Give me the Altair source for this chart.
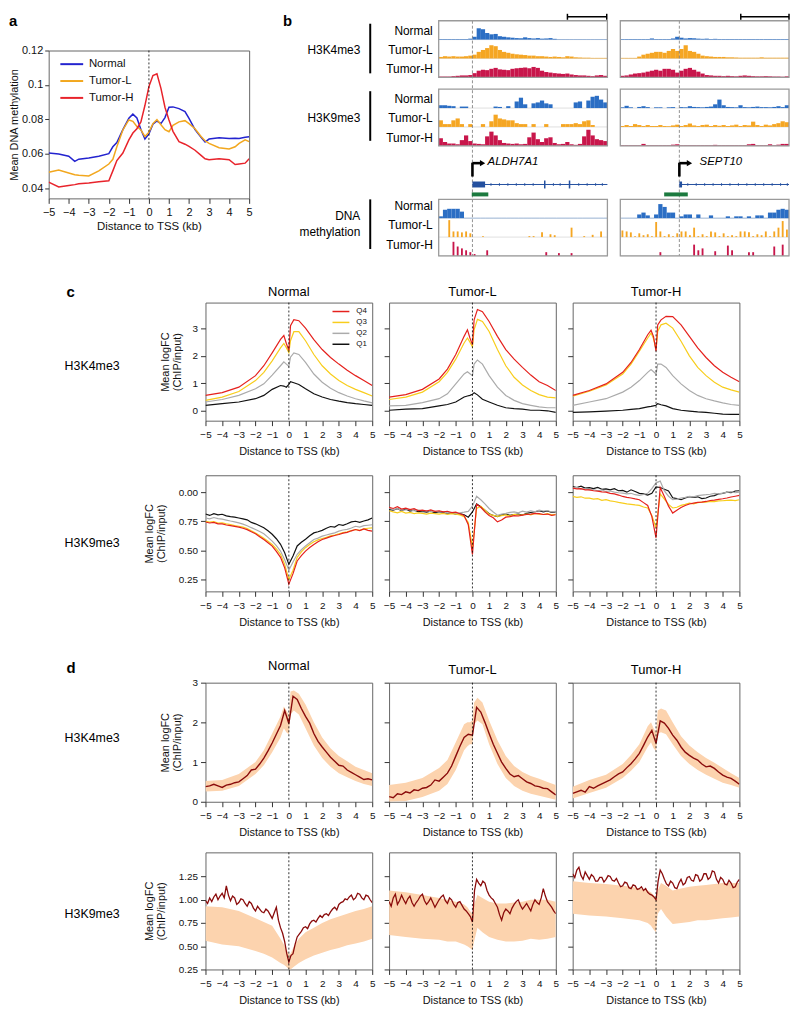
import altair as alt
import pandas as pd

FONT = "Liberation Sans"
SAMPLES = ["Normal", "Tumor-L", "Tumor-H"]
QUARTS = ["Q4", "Q3", "Q2", "Q1"]
XTICKS = [-5, -4, -3, -2, -1, 0, 1, 2, 3, 4, 5]

A_COLORS = ["#2323cf", "#f2a71e", "#e8232b"]
Q_COLORS = ["#e5211d", "#f8cd1c", "#ababab", "#111111"]
B_COLORS = ["#2b6ec4", "#f5a623", "#c8164b"]
D_LINE = "#8a0b0b"
D_BAND = "#fcd3ae"
GENE_BLUE = "#24509f"
GREEN = "#1c7a3f"
NOVIEW = alt.ViewBackground(stroke="transparent")

# ---------------- panel a : mean DNA methylation ----------------
A_X = [-5, -4.5, -4, -3.7, -3.5, -3, -2.5, -2, -1.8, -1.6, -1.3, -1, -0.8, -0.6, -0.4, -0.2, 0, 0.2,
       0.4, 0.6, 0.8, 1.0, 1.2, 1.5, 1.8, 2.0, 2.3, 2.6, 2.8, 3.0, 3.5, 4.0, 4.3, 4.5, 4.8, 5.0]
A_NORMAL = [0.0604, 0.0598, 0.0585, 0.0555, 0.0568, 0.0575, 0.0585, 0.0600, 0.0640, 0.0665, 0.0740, 0.0806,
            0.0830, 0.0808, 0.0740, 0.0685, 0.0715, 0.0772, 0.0790, 0.0775, 0.0810, 0.0870, 0.0872, 0.0862,
            0.0845, 0.0805, 0.0740, 0.0695, 0.0668, 0.0685, 0.0692, 0.0688, 0.0690, 0.0688, 0.0695, 0.0698]
A_TUMOR_L = [0.0492, 0.0505, 0.0488, 0.0478, 0.0475, 0.0470, 0.0500, 0.0540, 0.0567, 0.0640, 0.0738, 0.0796,
             0.0788, 0.0758, 0.0738, 0.0700, 0.0725, 0.0775, 0.0798, 0.0768, 0.0740, 0.0728, 0.0765, 0.0785,
             0.0792, 0.0775, 0.0745, 0.0700, 0.0675, 0.0660, 0.0635, 0.0627, 0.0640, 0.0660, 0.0680, 0.0670]
A_TUMOR_H = [0.0435, 0.0406, 0.0415, 0.0420, 0.0425, 0.0430, 0.0437, 0.0442, 0.0500, 0.0560, 0.0604, 0.0680,
             0.0720, 0.0745, 0.0785, 0.0880, 0.0990, 0.1055, 0.1065, 0.0980, 0.0870, 0.0796, 0.0730, 0.0670,
             0.0655, 0.0642, 0.0620, 0.0590, 0.0570, 0.0565, 0.0570, 0.0565, 0.0537, 0.0540, 0.0545, 0.0570]
A_YTICKS = [0.04, 0.06, 0.08, 0.1, 0.12]

# ---------------- panels c / d : x grids ----------------
XG1 = [-5, -4, -3, -2, -1.5, -1, -0.5, -0.3, -0.15, 0, 0.1, 0.3, 0.6, 1, 1.5, 2, 2.5, 3, 3.5, 4, 4.5, 5]
XG2 = [-5, -4.75, -4.5, -4.25, -4, -3.75, -3.5, -3.25, -3, -2.75, -2.5, -2.25, -2, -1.75, -1.5, -1.25,
       -1, -0.75, -0.5, -0.25, 0, 0.25, 0.5, 0.75, 1, 1.25, 1.5, 1.75, 2, 2.25, 2.5, 2.75, 3, 3.25, 3.5,
       3.75, 4, 4.25, 4.5, 4.75, 5]
XG3 = [-5, -4.875, -4.75, -4.625, -4.5, -4.375, -4.25, -4.125, -4, -3.875, -3.75, -3.625, -3.5, -3.375,
       -3.25, -3.125, -3, -2.875, -2.75, -2.625, -2.5, -2.375, -2.25, -2.125, -2, -1.875, -1.75, -1.625,
       -1.5, -1.375, -1.25, -1.125, -1, -0.875, -0.75, -0.625, -0.5, -0.375, -0.25, -0.125, 0, 0.125,
       0.25, 0.375, 0.5, 0.625, 0.75, 0.875, 1, 1.125, 1.25, 1.375, 1.5, 1.625, 1.75, 1.875, 2, 2.125,
       2.25, 2.375, 2.5, 2.625, 2.75, 2.875, 3, 3.125, 3.25, 3.375, 3.5, 3.625, 3.75, 3.875, 4, 4.125,
       4.25, 4.375, 4.5, 4.625, 4.75, 4.875, 5]

# c, H3K4me3 (grid XG1)
K4_N_Q4 = [0.56, 0.66, 0.86, 1.28, 1.64, 2.11, 2.60, 2.74, 2.45, 2.20, 3.10, 3.32, 3.28, 3.01, 2.59, 2.23, 1.94, 1.70, 1.48, 1.28, 1.10, 0.92]
K4_N_Q3 = [0.38, 0.50, 0.70, 1.10, 1.40, 1.82, 2.29, 2.45, 2.30, 2.12, 2.55, 2.88, 2.88, 2.55, 2.05, 1.64, 1.34, 1.10, 0.92, 0.78, 0.66, 0.54]
K4_N_Q2 = [0.32, 0.41, 0.56, 0.80, 0.98, 1.30, 1.64, 1.78, 1.70, 1.62, 1.95, 2.11, 2.05, 1.76, 1.34, 1.04, 0.82, 0.66, 0.54, 0.44, 0.36, 0.29]
K4_N_Q1 = [0.20, 0.26, 0.32, 0.44, 0.56, 0.78, 0.92, 0.90, 0.86, 0.96, 1.06, 1.02, 0.96, 0.80, 0.62, 0.50, 0.41, 0.35, 0.30, 0.26, 0.23, 0.20]
K4_L_Q4 = [0.50, 0.59, 0.78, 1.16, 1.52, 2.05, 2.71, 2.95, 2.65, 2.41, 3.31, 3.69, 3.61, 3.25, 2.71, 2.23, 1.88, 1.58, 1.30, 1.06, 0.92, 0.74]
K4_L_Q3 = [0.41, 0.50, 0.68, 1.06, 1.40, 1.88, 2.47, 2.65, 2.50, 2.33, 2.95, 3.33, 3.25, 2.89, 2.23, 1.64, 1.22, 0.94, 0.74, 0.59, 0.50, 0.47]
K4_L_Q2 = [0.18, 0.20, 0.30, 0.44, 0.62, 0.98, 1.34, 1.42, 1.35, 1.28, 1.70, 1.85, 1.70, 1.28, 0.86, 0.56, 0.38, 0.26, 0.20, 0.14, 0.11, 0.11]
K4_L_Q1 = [0.02, 0.06, 0.08, 0.18, 0.23, 0.32, 0.50, 0.54, 0.56, 0.60, 0.66, 0.58, 0.42, 0.32, 0.20, 0.11, 0.08, 0.06, 0.02, 0.02, 0.00, -0.06]
K4_H_Q4 = [0.56, 0.74, 0.98, 1.40, 1.76, 2.23, 2.77, 2.93, 2.70, 2.17, 3.13, 3.31, 3.44, 3.43, 3.13, 2.71, 2.29, 1.94, 1.64, 1.40, 1.22, 1.06]
K4_H_Q3 = [0.53, 0.71, 0.94, 1.34, 1.70, 2.17, 2.65, 2.83, 2.62, 2.23, 2.89, 3.13, 3.19, 3.01, 2.53, 2.00, 1.58, 1.28, 1.04, 0.86, 0.76, 0.68]
K4_H_Q2 = [0.20, 0.32, 0.44, 0.68, 0.86, 1.10, 1.40, 1.50, 1.42, 1.34, 1.70, 1.70, 1.58, 1.28, 0.98, 0.74, 0.56, 0.44, 0.36, 0.29, 0.23, 0.20]
K4_H_Q1 = [-0.06, -0.04, -0.01, 0.02, 0.05, 0.08, 0.14, 0.16, 0.18, 0.20, 0.26, 0.22, 0.18, 0.08, 0.02, -0.01, -0.04, -0.06, -0.09, -0.12, -0.13, -0.13]

# c, H3K9me3 (grid XG2)
K9_N_Q1 = [0.812, 0.800, 0.815, 0.805, 0.810, 0.796, 0.790, 0.785, 0.778, 0.770, 0.762, 0.740, 0.728, 0.712, 0.695, 0.668, 0.638, 0.600, 0.552, 0.480, 0.380,
           0.452, 0.538, 0.570, 0.596, 0.625, 0.650, 0.660, 0.672, 0.690, 0.705, 0.700, 0.722, 0.715, 0.728, 0.745, 0.750, 0.740, 0.752, 0.762, 0.778]
K9_N_Q2 = [0.778, 0.770, 0.782, 0.772, 0.768, 0.760, 0.752, 0.745, 0.736, 0.725, 0.712, 0.695, 0.679, 0.662, 0.642, 0.612, 0.580, 0.540, 0.494, 0.420, 0.330,
           0.400, 0.466, 0.505, 0.537, 0.566, 0.594, 0.605, 0.622, 0.632, 0.642, 0.650, 0.665, 0.675, 0.680, 0.692, 0.707, 0.700, 0.712, 0.716, 0.720]
K9_N_Q3 = [0.750, 0.742, 0.748, 0.735, 0.736, 0.728, 0.722, 0.712, 0.707, 0.700, 0.688, 0.668, 0.650, 0.628, 0.604, 0.578, 0.551, 0.512, 0.466, 0.380, 0.250,
           0.330, 0.440, 0.488, 0.523, 0.550, 0.574, 0.590, 0.602, 0.612, 0.625, 0.632, 0.642, 0.652, 0.660, 0.670, 0.679, 0.672, 0.685, 0.690, 0.693]
K9_N_Q4 = [0.744, 0.735, 0.740, 0.728, 0.727, 0.718, 0.712, 0.706, 0.700, 0.690, 0.678, 0.660, 0.642, 0.618, 0.594, 0.566, 0.537, 0.492, 0.440, 0.350, 0.210,
           0.300, 0.409, 0.455, 0.494, 0.525, 0.551, 0.575, 0.594, 0.605, 0.618, 0.628, 0.636, 0.648, 0.655, 0.668, 0.679, 0.670, 0.684, 0.672, 0.665]
K9_L_Q1 = [0.850, 0.845, 0.858, 0.842, 0.855, 0.838, 0.846, 0.832, 0.835, 0.828, 0.836, 0.822, 0.830, 0.826, 0.818, 0.822, 0.812, 0.815, 0.805, 0.785, 0.830,
           0.900, 0.875, 0.845, 0.815, 0.800, 0.790, 0.805, 0.812, 0.800, 0.808, 0.812, 0.804, 0.818, 0.825, 0.832, 0.840, 0.830, 0.838, 0.826, 0.830]
K9_L_Q2 = [0.862, 0.850, 0.858, 0.845, 0.848, 0.852, 0.840, 0.845, 0.838, 0.842, 0.832, 0.836, 0.828, 0.832, 0.820, 0.826, 0.815, 0.822, 0.828, 0.835, 0.880,
           0.965, 0.935, 0.900, 0.860, 0.830, 0.802, 0.812, 0.818, 0.826, 0.830, 0.822, 0.836, 0.828, 0.840, 0.832, 0.846, 0.838, 0.842, 0.830, 0.835]
K9_L_Q3 = [0.840, 0.830, 0.822, 0.835, 0.820, 0.826, 0.815, 0.822, 0.818, 0.812, 0.820, 0.815, 0.812, 0.818, 0.808, 0.815, 0.810, 0.805, 0.790, 0.740, 0.523,
           0.860, 0.880, 0.845, 0.810, 0.800, 0.792, 0.798, 0.805, 0.795, 0.810, 0.802, 0.806, 0.812, 0.805, 0.818, 0.812, 0.808, 0.815, 0.805, 0.810]
K9_L_Q4 = [0.870, 0.860, 0.875, 0.855, 0.862, 0.850, 0.858, 0.842, 0.845, 0.838, 0.848, 0.835, 0.840, 0.830, 0.836, 0.825, 0.828, 0.815, 0.800, 0.720, 0.466,
           0.895, 0.870, 0.830, 0.800, 0.780, 0.745, 0.760, 0.785, 0.790, 0.798, 0.795, 0.802, 0.808, 0.812, 0.818, 0.815, 0.808, 0.812, 0.800, 0.806]
K9_H_Q1 = [1.048, 1.040, 1.052, 1.035, 1.038, 1.030, 1.040, 1.025, 1.028, 1.020, 1.030, 1.012, 1.015, 1.000, 1.020, 1.005, 0.990, 0.985, 0.975, 0.990, 1.045,
           1.040, 1.025, 1.010, 0.952, 0.945, 0.935, 0.950, 0.962, 0.955, 0.960, 0.945, 0.950, 0.965, 0.970, 0.985, 0.990, 1.000, 0.995, 1.010, 1.012]
K9_H_Q2 = [1.034, 1.040, 1.025, 1.030, 1.020, 1.022, 1.012, 1.018, 1.006, 1.010, 1.000, 0.995, 0.991, 0.985, 0.990, 0.978, 0.972, 0.980, 0.990, 1.030, 1.080,
           1.095, 1.010, 0.965, 0.935, 0.940, 0.950, 0.955, 0.963, 0.960, 0.970, 0.975, 0.978, 0.982, 0.990, 0.985, 0.992, 0.998, 1.005, 0.995, 1.000]
K9_H_Q3 = [0.963, 0.955, 0.960, 0.948, 0.949, 0.940, 0.944, 0.930, 0.935, 0.925, 0.920, 0.912, 0.906, 0.900, 0.895, 0.890, 0.886, 0.872, 0.864, 0.800, 0.693,
           0.985, 0.940, 0.895, 0.864, 0.870, 0.886, 0.895, 0.906, 0.900, 0.910, 0.915, 0.915, 0.920, 0.918, 0.925, 0.926, 0.930, 0.932, 0.928, 0.935]
K9_H_Q4 = [1.034, 1.028, 1.030, 1.020, 1.020, 1.012, 1.008, 1.002, 1.000, 0.990, 0.985, 0.975, 0.963, 0.955, 0.950, 0.942, 0.935, 0.910, 0.886, 0.790, 0.608,
           1.040, 0.963, 0.880, 0.820, 0.845, 0.869, 0.885, 0.898, 0.905, 0.912, 0.915, 0.920, 0.928, 0.932, 0.938, 0.943, 0.950, 0.958, 0.965, 0.972]

# d, H3K4me3 : mean line (XG2) and band (XG1)
D4_N = [0.38, 0.40, 0.44, 0.40, 0.36, 0.42, 0.44, 0.48, 0.50, 0.58, 0.66, 0.80, 0.82, 0.95, 1.10, 1.28, 1.48, 1.70, 1.92, 2.30, 1.97,
        2.66, 2.58, 2.35, 2.15, 1.98, 1.72, 1.52, 1.38, 1.25, 1.12, 1.02, 0.92, 0.90, 0.80, 0.74, 0.68, 0.62, 0.56, 0.58, 0.55]
D4_N_LO = [0.26, 0.28, 0.40, 0.70, 0.92, 1.25, 1.62, 1.85, 1.75, 1.70, 2.20, 2.30, 2.20, 1.85, 1.42, 1.10, 0.88, 0.72, 0.62, 0.52, 0.45, 0.40]
D4_N_HI = [0.52, 0.55, 0.70, 1.00, 1.30, 1.72, 2.15, 2.40, 2.30, 2.20, 2.78, 2.80, 2.72, 2.45, 2.00, 1.62, 1.35, 1.15, 1.02, 0.88, 0.80, 0.72]
D4_L = [0.13, 0.10, 0.20, 0.18, 0.25, 0.22, 0.30, 0.28, 0.34, 0.36, 0.42, 0.55, 0.52, 0.62, 0.72, 0.90, 1.15, 1.40, 1.62, 1.70, 1.68,
        2.38, 2.26, 2.00, 1.72, 1.45, 1.22, 1.00, 0.84, 0.70, 0.63, 0.66, 0.58, 0.50, 0.46, 0.40, 0.38, 0.34, 0.33, 0.25, 0.17]
D4_L_LO = [0.00, 0.02, 0.12, 0.28, 0.45, 0.80, 1.30, 1.40, 1.45, 1.45, 1.95, 2.05, 1.95, 1.45, 0.95, 0.60, 0.40, 0.28, 0.20, 0.15, 0.10, 0.05]
D4_L_HI = [0.42, 0.48, 0.60, 0.85, 1.05, 1.50, 1.95, 2.00, 2.00, 2.05, 2.50, 2.62, 2.50, 2.05, 1.55, 1.15, 0.90, 0.75, 0.65, 0.58, 0.50, 0.42]
D4_H = [0.21, 0.25, 0.29, 0.24, 0.38, 0.34, 0.40, 0.45, 0.50, 0.55, 0.63, 0.70, 0.75, 0.86, 0.96, 1.08, 1.22, 1.42, 1.63, 1.80, 1.47,
        2.04, 1.98, 1.85, 1.68, 1.55, 1.38, 1.25, 1.17, 1.10, 1.05, 0.95, 0.88, 0.90, 0.84, 0.75, 0.67, 0.62, 0.59, 0.52, 0.44]
D4_H_LO = [0.08, 0.22, 0.35, 0.60, 0.78, 1.00, 1.38, 1.50, 1.35, 1.28, 1.72, 1.75, 1.70, 1.45, 1.15, 0.95, 0.80, 0.68, 0.58, 0.48, 0.42, 0.35]
D4_H_HI = [0.38, 0.55, 0.68, 0.95, 1.18, 1.45, 1.90, 2.00, 1.85, 1.75, 2.30, 2.35, 2.30, 2.00, 1.65, 1.42, 1.25, 1.10, 0.98, 0.85, 0.72, 0.60]

# d, H3K9me3 : mean line (XG3) and band (XG1)
D9_N = [0.99, 0.96, 1.02, 0.98, 1.03, 1.06, 1.00, 1.04, 1.07, 1.02, 1.15, 1.05, 0.99, 1.04, 1.02, 0.95, 0.97, 1.01, 1.00, 0.96,
        0.93, 0.98, 0.96, 0.91, 0.88, 0.93, 0.90, 0.87, 0.86, 0.90, 0.88, 0.84, 0.80, 0.86, 0.92, 0.78, 0.70, 0.64, 0.55, 0.42,
        0.33, 0.40, 0.42, 0.52, 0.60, 0.63, 0.66, 0.70, 0.71, 0.69, 0.74, 0.77, 0.78, 0.76, 0.80, 0.83, 0.81, 0.84, 0.85, 0.83,
        0.87, 0.90, 0.92, 0.89, 0.95, 0.97, 0.98, 1.01, 1.00, 1.03, 1.05, 1.00, 1.02, 1.07, 1.06, 1.02, 1.00, 1.05, 1.04, 1.00, 0.97]
D9_N_LO = [0.56, 0.52, 0.50, 0.45, 0.42, 0.38, 0.32, 0.30, 0.28, 0.25, 0.25, 0.28, 0.32, 0.36, 0.40, 0.43, 0.46, 0.48, 0.51, 0.53, 0.55, 0.58]
D9_N_HI = [0.93, 0.92, 0.88, 0.80, 0.76, 0.72, 0.58, 0.52, 0.46, 0.42, 0.42, 0.50, 0.58, 0.65, 0.70, 0.75, 0.79, 0.82, 0.85, 0.88, 0.90, 0.93]
D9_L = [0.98, 0.93, 1.02, 1.06, 0.95, 0.99, 1.05, 1.00, 0.96, 1.01, 1.04, 0.97, 0.93, 0.97, 1.00, 1.04, 1.06, 0.99, 0.95, 0.98,
        1.02, 0.97, 0.92, 0.96, 1.00, 1.03, 1.05, 0.99, 0.96, 1.02, 1.00, 0.95, 0.92, 0.97, 0.98, 0.94, 0.90, 0.88, 0.85, 0.82,
        0.76, 1.10, 1.22, 1.18, 1.15, 1.20, 1.18, 1.10, 1.05, 1.02, 1.00, 0.96, 0.92, 0.84, 0.78, 0.86, 0.90, 0.88, 0.85, 0.91,
        0.95, 0.98, 1.00, 0.94, 0.90, 0.93, 0.96, 0.92, 0.88, 0.95, 1.00, 0.97, 0.95, 1.02, 1.12, 1.04, 0.98, 0.95, 0.92, 0.88, 0.85]
D9_L_LO = [0.62, 0.60, 0.58, 0.57, 0.55, 0.55, 0.52, 0.50, 0.48, 0.46, 0.55, 0.70, 0.65, 0.60, 0.57, 0.55, 0.55, 0.56, 0.58, 0.57, 0.58, 0.60]
D9_L_HI = [1.10, 1.08, 1.05, 1.02, 1.00, 0.98, 0.95, 0.92, 0.88, 0.85, 0.95, 1.05, 1.02, 0.98, 0.96, 0.96, 0.97, 0.98, 1.00, 1.00, 1.00, 0.98]
D9_H = [1.28, 1.24, 1.32, 1.35, 1.26, 1.22, 1.30, 1.26, 1.22, 1.27, 1.25, 1.20, 1.20, 1.24, 1.24, 1.19, 1.22, 1.26, 1.25, 1.21,
        1.20, 1.23, 1.18, 1.14, 1.15, 1.19, 1.18, 1.13, 1.12, 1.16, 1.15, 1.11, 1.12, 1.14, 1.10, 1.12, 1.08, 1.06, 1.05, 1.03,
        1.00, 1.20, 1.32, 1.28, 1.22, 1.17, 1.15, 1.20, 1.18, 1.13, 1.12, 1.18, 1.22, 1.16, 1.18, 1.24, 1.25, 1.21, 1.20, 1.27,
        1.26, 1.20, 1.22, 1.28, 1.28, 1.22, 1.24, 1.31, 1.30, 1.22, 1.18, 1.24, 1.22, 1.17, 1.16, 1.21, 1.18, 1.13, 1.14, 1.19, 1.22]
D9_H_LO = [0.85, 0.83, 0.82, 0.80, 0.79, 0.78, 0.75, 0.72, 0.68, 0.65, 0.85, 0.90, 0.82, 0.74, 0.75, 0.76, 0.78, 0.78, 0.79, 0.80, 0.81, 0.82]
D9_H_HI = [1.20, 1.18, 1.17, 1.15, 1.14, 1.12, 1.10, 1.08, 1.05, 1.02, 1.10, 1.18, 1.15, 1.10, 1.12, 1.14, 1.15, 1.16, 1.17, 1.18, 1.18, 1.18]

# ---------------- panel b : browser tracks (40 bins per locus, height as fraction of a track) ----------------
B_BINS = [0, 2.5, 5, 7.5, 10, 12.5, 15, 17.5, 20, 22.5, 25, 27.5, 30, 32.5, 35, 37.5, 40, 42.5, 45, 47.5,
          50, 52.5, 55, 57.5, 60, 62.5, 65, 67.5, 70, 72.5, 75, 77.5, 80, 82.5, 85, 87.5, 90, 92.5, 95, 97.5]
BL_K4_N = [0.03, 0.03, 0.03, 0.03, 0.03, 0.03, 0.03, 0.05, 0.15, 0.6, 0.55, 0.35, 0.28, 0.3, 0.18, 0.15, 0.12, 0.1, 0.08, 0.07,
           0.12, 0.08, 0.06, 0.08, 0.05, 0.06, 0.08, 0.04, 0.02, 0.02, 0.02, 0.02, 0.02, 0.02, 0.02, 0.02, 0.02, 0.02, 0.02, 0.02]
BL_K4_L = [0.08, 0.12, 0.1, 0.12, 0.1, 0.1, 0.12, 0.15, 0.2, 0.35, 0.45, 0.55, 0.7, 0.65, 0.45, 0.35, 0.3, 0.25, 0.22, 0.2,
           0.18, 0.15, 0.15, 0.12, 0.12, 0.1, 0.08, 0.1, 0.08, 0.06, 0.12, 0.1, 0.06, 0.05, 0.04, 0.04, 0.03, 0.03, 0.03, 0.03]
BL_K4_H = [0.04, 0.04, 0.04, 0.06, 0.08, 0.1, 0.1, 0.12, 0.22, 0.35, 0.4, 0.38, 0.45, 0.5, 0.42, 0.4, 0.38, 0.45, 0.48, 0.5,
           0.52, 0.48, 0.55, 0.5, 0.35, 0.28, 0.25, 0.22, 0.2, 0.18, 0.2, 0.15, 0.12, 0.1, 0.1, 0.08, 0.06, 0.1, 0.12, 0.08]
BL_K9_N = [0.15, 0.15, 0.12, 0.1, 0, 0.08, 0.08, 0, 0, 0, 0, 0, 0, 0.08, 0.06, 0, 0.1, 0, 0.35, 0.55,
           0.2, 0, 0.25, 0.3, 0.4, 0.25, 0.2, 0, 0, 0, 0, 0, 0.3, 0.35, 0, 0.4, 0.6, 0.65, 0.45, 0.3]
BL_K9_L = [0.35, 0.15, 0.15, 0.35, 0.45, 0.15, 0, 0.15, 0, 0, 0.15, 0, 0.3, 0.65, 0.45, 0.4, 0.35, 0.35, 0.2, 0.15,
           0.15, 0, 0.15, 0, 0, 0.15, 0, 0, 0, 0.15, 0.15, 0.15, 0.2, 0.15, 0.3, 0.35, 0.1, 0, 0, 0]
BL_K9_H = [0.4, 0.2, 0.12, 0.12, 0.08, 0.3, 0.55, 0.25, 0.12, 0.1, 0.08, 0.5, 0.75, 0.55, 0.3, 0.15, 0.12, 0.1, 0.12, 0.08,
           0.1, 0.45, 0.7, 0.35, 0.2, 0.4, 0.45, 0.15, 0.08, 0.1, 0.2, 0.08, 0.05, 0.1, 0.5, 0.85, 0.55, 0.35, 0.3, 0.25]
BL_ME_N = [0.1, 0.45, 0.5, 0.5, 0.5, 0.35, 0.02, 0.02, 0.02, 0.02, 0.02, 0.02, 0.02, 0.02, 0.02, 0.02, 0.02, 0.02, 0.02, 0.02,
           0.02, 0.02, 0.02, 0.02, 0.02, 0.02, 0.02, 0.02, 0.02, 0.02, 0.02, 0.02, 0.02, 0.02, 0.02, 0.02, 0.02, 0.02, 0.02, 0.02]
BL_ME_L = [0, 0, 0.9, 0.3, 0.3, 0.25, 0.3, 0.2, 0, 0, 0.05, 0, 0, 0, 0, 0, 0, 0, 0, 0,
           0, 0.05, 0.05, 0, 0.25, 0, 0.15, 0.1, 0, 0, 0, 0.5, 0, 0, 0.05, 0, 0.12, 0, 0.3, 0]
BL_ME_H = [0, 0, 0, 0.75, 0.5, 0.4, 0.3, 0.2, 0.1, 0, 0, 0.3, 0, 0, 0, 0, 0, 0, 0, 0,
           0, 0, 0, 0, 0, 0.2, 0, 0, 0.15, 0, 0, 0.15, 0, 0, 0, 0, 0, 0, 0, 0]
BR_K4_N = [0.03, 0.03, 0.03, 0.03, 0.03, 0.03, 0.03, 0.06, 0.03, 0.03, 0.03, 0.03, 0.06, 0.15, 0.1, 0.06, 0.08, 0.07, 0.05, 0.04,
           0.05, 0.03, 0.04, 0.03, 0.03, 0.03, 0.03, 0.03, 0.03, 0.03, 0.03, 0.03, 0.03, 0.03, 0.03, 0.03, 0.03, 0.03, 0.03, 0.03]
BR_K4_L = [0.03, 0.03, 0.03, 0.03, 0.1, 0.2, 0.25, 0.3, 0.35, 0.35, 0.3, 0.4, 0.5, 0.4, 0.5, 0.7, 0.4, 0.35, 0.25, 0.15,
           0.12, 0.1, 0.08, 0.08, 0.08, 0.06, 0.06, 0.05, 0.04, 0.04, 0.04, 0.04, 0.04, 0.06, 0.04, 0.04, 0.04, 0.04, 0.04, 0.04]
BR_K4_H = [0.08, 0.1, 0.15, 0.2, 0.22, 0.25, 0.3, 0.35, 0.4, 0.35, 0.45, 0.45, 0.4, 0.25, 0.35, 0.45, 0.5, 0.4, 0.3, 0.2,
           0.12, 0.1, 0.08, 0.08, 0.06, 0.08, 0.06, 0.05, 0.08, 0.1, 0.08, 0.06, 0.05, 0.05, 0.06, 0.05, 0.04, 0.04, 0.03, 0.05]
BR_K9_N = [0.04, 0.12, 0.04, 0, 0.06, 0.1, 0.05, 0, 0.04, 0.04, 0, 0.04, 0.05, 0, 0.05, 0.04, 0.1, 0.06, 0.05, 0.04,
           0.06, 0.08, 0.2, 0.45, 0.15, 0.06, 0.05, 0.04, 0.15, 0.05, 0.04, 0.06, 0.08, 0.05, 0.05, 0.04, 0.06, 0.1, 0.05, 0.15]
BR_K9_L = [0.05, 0.1, 0.05, 0.15, 0.1, 0.05, 0.1, 0.05, 0.05, 0.1, 0.05, 0.04, 0.08, 0.12, 0.05, 0.1, 0.18, 0.08, 0.05, 0.1,
           0.12, 0.05, 0.1, 0.06, 0.1, 0.05, 0.08, 0.12, 0.05, 0.1, 0.08, 0.28, 0.1, 0.05, 0.12, 0.08, 0.15, 0.2, 0.3, 0.25]
BR_K9_H = [0.03, 0.03, 0.03, 0.03, 0.03, 0.1, 0.03, 0.03, 0.03, 0.03, 0.03, 0.03, 0.06, 0.08, 0.03, 0.03, 0.03, 0.03, 0.03, 0.03,
           0.03, 0.03, 0.05, 0.03, 0.03, 0.03, 0.03, 0.03, 0.03, 0.03, 0.08, 0.1, 0.03, 0.03, 0.03, 0.08, 0.03, 0.06, 0.1, 0.1]
BR_ME_N = [0.02, 0.02, 0.02, 0.02, 0.2, 0.3, 0.15, 0.02, 0.2, 0.75, 0.6, 0.3, 0.3, 0.02, 0.1, 0.2, 0.2, 0.02, 0.2, 0.02,
           0.02, 0.15, 0.02, 0.02, 0.02, 0.1, 0.02, 0.1, 0.1, 0.02, 0.1, 0.02, 0.15, 0.15, 0.02, 0.3, 0.3, 0.45, 0.5, 0.45]
BR_ME_L = [0.35, 0.3, 0.25, 0.05, 0.2, 0.1, 0.15, 0.05, 0.8, 0.3, 0.05, 0.15, 0.05, 0.2, 0.3, 0.3, 0.1, 0.5, 0.05, 0.15,
           0.05, 0.3, 0.25, 0.05, 0.2, 0.05, 0.1, 0.05, 0.3, 0.3, 0.25, 0.05, 0.15, 0.1, 0.3, 0.05, 0.3, 0.5, 0.85, 0.4]
BR_ME_H = [0, 0, 0, 0, 0, 0, 0, 0, 0, 0.2, 0, 0, 0, 0, 0, 0, 0, 0.6, 0.3, 0.4,
           0, 0, 0.25, 0, 0, 0.55, 0.3, 0, 0, 0, 0.2, 0.2, 0, 0, 0, 0, 0.5, 0, 0.6, 0]

# gene models (locus coordinates 0-100)
GENES = {
    "left": dict(name="ALDH7A1", tss=20, name_x=29, end=100,
                 exons=[(20, 27.5, 174, 180), (62.4, 63.3, 173, 181), (77.1, 78.0, 173, 181)],
                 ticks=[31, 36, 41, 46, 51, 56, 68, 72, 83, 88, 93, 97],
                 green=(19.6, 29.4), scale=(76.3, 99.6)),
    "right": dict(name="SEPT10", tss=35, name_x=47, end=100,
                  exons=[(35, 36.6, 174, 180)],
                  ticks=[40, 45, 50, 55, 60, 65, 70, 75, 80, 85, 90, 95, 99],
                  green=(26, 40), scale=(71.4, 100)),
}

# ---------------- layout constants (pixels) ----------------
B_BOX_TOP = {"k4": 12, "k9": 81, "me": 192}   # rows of panel b, measured from the top of panel b
TRACK_H = 19
BOX_W = 170
LETTER_Y = 5          # top of the panel letters, inside panel b's frame of reference
ZERO_DF = pd.DataFrame({"x": [0]})


def long_df(x, pairs):
    rows = []
    for name, vals in pairs:
        for xi, v in zip(x, vals):
            rows.append({"x": xi, "y": v, "s": name})
    return pd.DataFrame(rows)


def band_df(x, lo, hi):
    return pd.DataFrame({"x": x, "lo": lo, "hi": hi})


def axis_x(label_size=10, title_size=11, lpad=4, tpad=6):
    return alt.Axis(values=XTICKS, format="d", title="Distance to TSS (kb)", titleFontSize=title_size,
                    titleFontWeight="normal", labelFontSize=label_size, tickSize=5, labelPadding=lpad,
                    titlePadding=tpad, domain=False, grid=False, labelFlush=False, labelOverlap=False,
                    tickColor="#333333", labelColor="#111111", titleColor="#111111")


def axis_y(values, first, pad, expr=None, fmt=None):
    kw = dict(values=values, tickSize=5, labelPadding=3, domain=False, grid=False, labelFlush=False,
              labelOverlap=False, labelFontSize=10, tickColor="#333333", labelColor="#111111")
    if first:
        kw.update(title=["Mean logFC", "(ChIP/input)"], titleFontSize=11, titleFontWeight="normal",
                  titlePadding=pad, titleLineHeight=12, titleColor="#111111")
    else:
        kw.update(title=None, labels=False)
    if expr:
        kw["labelExpr"] = expr
    if fmt:
        kw["format"] = fmt
    return alt.Axis(**kw)


def profile(ydom, yaxis, height, title=None, title_offset=3, qlines=None, legend=None,
            band=None, mean=None, lw=1.2):
    xs = alt.Scale(domain=[-5, 5], nice=False, zero=False)
    ys = alt.Scale(domain=ydom, nice=False, zero=False)
    X = alt.X("x:Q", scale=xs, axis=axis_x())
    layers = []
    if band is not None:
        layers.append(alt.Chart(band).mark_area(color=D_BAND, opacity=1, clip=True).encode(
            x=X, y=alt.Y("lo:Q", scale=ys, axis=yaxis), y2="hi:Q"))
    if qlines is not None:
        layers.append(alt.Chart(qlines).mark_line(strokeWidth=lw, clip=True).encode(
            x=X, y=alt.Y("y:Q", scale=ys, axis=yaxis),
            color=alt.Color("s:N", scale=alt.Scale(domain=QUARTS, range=Q_COLORS), legend=legend)))
    if mean is not None:
        layers.append(alt.Chart(mean).mark_line(strokeWidth=lw, color=D_LINE, clip=True).encode(
            x=X, y=alt.Y("y:Q", scale=ys, axis=yaxis)))
    layers.append(alt.Chart(ZERO_DF).mark_rule(color="#000000", strokeDash=[2, 2], strokeWidth=0.8).encode(x=X))
    ch = alt.layer(*layers).properties(width=168, height=height)
    if title:
        ch = ch.properties(title=alt.TitleParams(text=title, fontSize=13, fontWeight="normal", offset=title_offset))
    return ch


def text_layer(txt, x, y, **kw):
    return alt.Chart(pd.DataFrame({"t": [txt]})).mark_text(**kw).encode(
        text="t:N", x=alt.value(x), y=alt.value(y))


def row_label(height, label, label_y, letter=None, letter_y=0):
    layers = [text_layer(label, 16, label_y, align="left", baseline="middle", fontSize=12.5)]
    if letter:
        layers.append(text_layer(letter, 18, letter_y, align="left", baseline="middle", fontSize=15,
                                 fontWeight="bold"))
    return alt.layer(*layers).properties(width=141, height=height, view=NOVIEW)


def spacer(h):
    return alt.Chart(pd.DataFrame({"t": [""]})).mark_text().encode(text="t:N").properties(
        width=1, height=h, view=NOVIEW)


# ---------------- panel a ----------------
a_df = long_df(A_X, [("Normal", A_NORMAL), ("Tumor-L", A_TUMOR_L), ("Tumor-H", A_TUMOR_H)])
a_xaxis = axis_x(label_size=11, title_size=11.5, lpad=3, tpad=3)
a_yaxis = alt.Axis(values=A_YTICKS, format=".2~g", title="Mean DNA methylation", titleFontSize=11,
                   titleFontWeight="normal", labelFontSize=11, tickSize=4, labelPadding=2, titlePadding=2,
                   domain=False, grid=False, labelFlush=False, labelOverlap=False, tickColor="#333333",
                   labelColor="#111111", titleColor="#111111")
a_legend = alt.Legend(orient="none", legendX=25, legendY=8, title=None, symbolType="M-4.75,0H1",
                      symbolSize=64, symbolStrokeWidth=2, labelFontSize=11.5, labelOffset=4, rowPadding=4,
                      padding=0, labelColor="#111111")
AX = alt.X("x:Q", scale=alt.Scale(domain=[-5, 5], nice=False, zero=False), axis=a_xaxis)
a_lines = alt.Chart(a_df).mark_line(strokeWidth=1.5, clip=True).encode(
    x=AX, y=alt.Y("y:Q", scale=alt.Scale(domain=[0.034, 0.12], nice=False, zero=False), axis=a_yaxis),
    color=alt.Color("s:N", scale=alt.Scale(domain=SAMPLES, range=A_COLORS), legend=a_legend))
a_zero = alt.Chart(ZERO_DF).mark_rule(color="#000000", strokeDash=[2, 2], strokeWidth=0.8).encode(x=AX)
a_letter = text_layer("a", -40, LETTER_Y - 42, align="left", baseline="top", fontSize=15, fontWeight="bold")
a_plot = alt.layer(a_lines, a_zero, a_letter).properties(width=202, height=149)

# ---------------- panel b ----------------
BX = alt.X("x:Q", scale=alt.Scale(domain=[0, 100], nice=False, zero=False), axis=None)
BY = alt.Y("y:Q", scale=alt.Scale(domain=[42, 249], nice=False, zero=False, reverse=True), axis=None)


def locus_unit(boxes, g):
    rows, bases, frames = [], [], []
    for key, (tracks, narrow) in boxes.items():
        top = B_BOX_TOP[key]
        frames.append({"x": 0, "x2": 100, "y": top, "y2": top + 3 * TRACK_H})
        for k, vals in enumerate(tracks):
            base = top + TRACK_H * (k + 1)
            bases.append({"x": 0, "x2": 100, "y": base})
            for x0, v in zip(B_BINS, vals):
                if v > 0:
                    a, b = (x0 + 0.7, x0 + 1.8) if narrow[k] else (x0, x0 + 2.5)
                    rows.append({"smp": SAMPLES[k], "x": a, "x2": b, "y": base, "y2": base - v * TRACK_H})
    tss = g["tss"]
    base_l = alt.Chart(pd.DataFrame(bases)).mark_rule(color="#d8d8d8", strokeWidth=0.8).encode(
        x=BX, x2="x2:Q", y=BY)
    bars = alt.Chart(pd.DataFrame(rows)).mark_rect(strokeWidth=0).encode(
        x=BX, x2="x2:Q", y=BY, y2="y2:Q",
        color=alt.Color("smp:N", scale=alt.Scale(domain=SAMPLES, range=B_COLORS), legend=None))
    dash = alt.Chart(pd.DataFrame({"x": [tss], "y": [B_BOX_TOP["k4"]], "y2": [249]})).mark_rule(
        color="#777777", strokeDash=[3, 2], strokeWidth=0.8).encode(x=BX, y=BY, y2="y2:Q")
    frame = alt.Chart(pd.DataFrame(frames)).mark_rect(
        fill="transparent", stroke="#9a9a9a", strokeWidth=1.3).encode(x=BX, x2="x2:Q", y=BY, y2="y2:Q")
    s0, s1 = g["scale"]
    sbar = alt.Chart(pd.DataFrame({"x": [s0], "x2": [s1], "y": [LETTER_Y + 3]})).mark_rule(
        color="#000000", strokeWidth=1.5).encode(x=BX, x2="x2:Q", y=BY)
    scaps = alt.Chart(pd.DataFrame({"x": [s0, s1], "y": [LETTER_Y, LETTER_Y],
                                    "y2": [LETTER_Y + 6, LETTER_Y + 6]})).mark_rule(
        color="#000000", strokeWidth=1.5).encode(x=BX, y=BY, y2="y2:Q")
    gline = alt.Chart(pd.DataFrame({"x": [tss], "x2": [g["end"]], "y": [177]})).mark_rule(
        color=GENE_BLUE, strokeWidth=1).encode(x=BX, x2="x2:Q", y=BY)
    gticks = alt.Chart(pd.DataFrame({"x": g["ticks"], "y": [175.5] * len(g["ticks"]),
                                     "y2": [178.5] * len(g["ticks"])})).mark_rule(
        color=GENE_BLUE, strokeWidth=0.8).encode(x=BX, y=BY, y2="y2:Q")
    exons = alt.Chart(pd.DataFrame(g["exons"], columns=["x", "x2", "y", "y2"])).mark_rect(
        color=GENE_BLUE).encode(x=BX, x2="x2:Q", y=BY, y2="y2:Q")
    green = alt.Chart(pd.DataFrame({"x": [g["green"][0]], "x2": [g["green"][1]], "y": [185], "y2": [189]})).mark_rect(
        color=GREEN).encode(x=BX, x2="x2:Q", y=BY, y2="y2:Q")
    arrow_v = alt.Chart(pd.DataFrame({"x": [tss], "y": [155], "y2": [169]})).mark_rule(
        color="#000000", strokeWidth=2.6).encode(x=BX, y=BY, y2="y2:Q")
    arrow_h = alt.Chart(pd.DataFrame({"x": [tss], "x2": [tss + 5], "y": [155.5]})).mark_rule(
        color="#000000", strokeWidth=2.6).encode(x=BX, x2="x2:Q", y=BY)
    head = alt.Chart(pd.DataFrame({"x": [tss + 6], "y": [155.5]})).mark_point(
        shape="triangle-right", filled=True, color="#000000", size=38, opacity=1).encode(x=BX, y=BY)
    name = alt.Chart(pd.DataFrame({"x": [g["name_x"]], "y": [154], "t": [g["name"]]})).mark_text(
        align="left", baseline="middle", fontSize=11.5, fontStyle="italic").encode(x=BX, y=BY, text="t:N")
    return alt.layer(base_l, bars, dash, frame, sbar, scaps, gline, gticks, exons, green,
                     arrow_v, arrow_h, head, name).properties(width=BOX_W, height=207, view=NOVIEW)


def b_label_unit():
    tr = pd.DataFrame({"t": SAMPLES * 3,
                       "y": [22, 41.5, 61, 91, 110, 130, 199, 218, 238]})
    grp = pd.DataFrame({"t": ["H3K4me3", "H3K9me3", "DNA", "methylation"], "y": [42, 110, 209, 225]})
    bars = pd.DataFrame({"y": [15, 83, 192], "y2": [65, 133, 242]})
    l1 = alt.Chart(tr).mark_text(align="right", baseline="middle", fontSize=12).encode(
        x=alt.value(172), y=BY, text="t:N")
    l2 = alt.Chart(grp).mark_text(align="right", baseline="middle", fontSize=12).encode(
        x=alt.value(99), y=BY, text="t:N")
    l3 = alt.Chart(bars).mark_rule(color="#000000", strokeWidth=2).encode(x=alt.value(109), y=BY, y2="y2:Q")
    letter = alt.Chart(pd.DataFrame({"t": ["b"], "y": [LETTER_Y]})).mark_text(
        align="left", baseline="top", fontSize=15, fontWeight="bold").encode(x=alt.value(21), y=BY, text="t:N")
    return alt.layer(l1, l2, l3, letter).properties(width=165, height=207, view=NOVIEW)


b_lab = b_label_unit()
b_left = locus_unit({"k4": ([BL_K4_N, BL_K4_L, BL_K4_H], [False, False, False]),
                     "k9": ([BL_K9_N, BL_K9_L, BL_K9_H], [False, False, False]),
                     "me": ([BL_ME_N, BL_ME_L, BL_ME_H], [False, True, True])}, GENES["left"])
b_right = locus_unit({"k4": ([BR_K4_N, BR_K4_L, BR_K4_H], [False, False, False]),
                      "k9": ([BR_K9_N, BR_K9_L, BR_K9_H], [False, False, False]),
                      "me": ([BR_ME_N, BR_ME_L, BR_ME_H], [False, True, True])}, GENES["right"])

# ---------------- panel c ----------------
q_legend = alt.Legend(orient="none", legendX=138, legendY=5, title=None, symbolType="M-4.67,0H1",
                      symbolSize=36, symbolStrokeWidth=1.5, labelFontSize=8, labelOffset=6, rowPadding=3,
                      padding=0, labelColor="#111111")


def qdf(x, q1, q2, q3, q4):
    return long_df(x, [("Q1", q1), ("Q2", q2), ("Q3", q3), ("Q4", q4)])


K4_DOMY = [-0.36, 3.94]
K9_DOMY = [0.148, 1.145]
K9_EXPR = "datum.value == 1 ? '0.00' : format(datum.value, '.2f')"
c1 = [row_label(119, "H3K4me3", 64, letter="c", letter_y=-11),
      profile(K4_DOMY, axis_y([0, 1, 2, 3], True, 10), 119, "Normal",
              qlines=qdf(XG1, K4_N_Q1, K4_N_Q2, K4_N_Q3, K4_N_Q4), legend=q_legend),
      profile(K4_DOMY, axis_y([0, 1, 2, 3], False, 0), 119, "Tumor-L",
              qlines=qdf(XG1, K4_L_Q1, K4_L_Q2, K4_L_Q3, K4_L_Q4), legend=None),
      profile(K4_DOMY, axis_y([0, 1, 2, 3], False, 0), 119, "Tumor-H",
              qlines=qdf(XG1, K4_H_Q1, K4_H_Q2, K4_H_Q3, K4_H_Q4), legend=None)]
c2 = [row_label(117, "H3K9me3", 68),
      profile(K9_DOMY, axis_y([0.25, 0.5, 0.75, 1.0], True, 12, expr=K9_EXPR), 117,
              qlines=qdf(XG2, K9_N_Q1, K9_N_Q2, K9_N_Q3, K9_N_Q4), legend=None),
      profile(K9_DOMY, axis_y([0.25, 0.5, 0.75, 1.0], False, 0), 117,
              qlines=qdf(XG2, K9_L_Q1, K9_L_Q2, K9_L_Q3, K9_L_Q4), legend=None),
      profile(K9_DOMY, axis_y([0.25, 0.5, 0.75, 1.0], False, 0), 117,
              qlines=qdf(XG2, K9_H_Q1, K9_H_Q2, K9_H_Q3, K9_H_Q4), legend=None)]


# ---------------- panel d ----------------
def mdf(x, vals):
    return pd.DataFrame({"x": x, "y": vals})


D4_DOMY = [0, 3]
D9_DOMY = [0.25, 1.51]
d1 = [row_label(120, "H3K4me3", 56, letter="d", letter_y=-15),
      profile(D4_DOMY, axis_y([0, 1, 2, 3], True, 10), 120, "Normal", title_offset=5,
              band=band_df(XG1, D4_N_LO, D4_N_HI), mean=mdf(XG2, D4_N), lw=1.4),
      profile(D4_DOMY, axis_y([0, 1, 2, 3], False, 0), 120, "Tumor-L", title_offset=5,
              band=band_df(XG1, D4_L_LO, D4_L_HI), mean=mdf(XG2, D4_L), lw=1.4),
      profile(D4_DOMY, axis_y([0, 1, 2, 3], False, 0), 120, "Tumor-H", title_offset=5,
              band=band_df(XG1, D4_H_LO, D4_H_HI), mean=mdf(XG2, D4_H), lw=1.4)]
d2 = [row_label(118, "H3K9me3", 62),
      profile(D9_DOMY, axis_y([0.25, 0.5, 0.75, 1.0, 1.25], True, 12, fmt=".2f"), 118,
              band=band_df(XG1, D9_N_LO, D9_N_HI), mean=mdf(XG3, D9_N), lw=1.3),
      profile(D9_DOMY, axis_y([0.25, 0.5, 0.75, 1.0, 1.25], False, 0), 118,
              band=band_df(XG1, D9_L_LO, D9_L_HI), mean=mdf(XG3, D9_L), lw=1.3),
      profile(D9_DOMY, axis_y([0.25, 0.5, 0.75, 1.0, 1.25], False, 0), 118,
              band=band_df(XG1, D9_H_LO, D9_H_HI), mean=mdf(XG3, D9_H), lw=1.3)]

row_a = alt.hconcat(a_plot, b_lab, b_left, b_right, spacing=13, bounds="flush").resolve_scale(
    color="independent")
cells = c1 + [spacer(55)] * 4 + c2 + [spacer(92)] * 4 + d1 + [spacer(51)] * 4 + d2
grid_cd = alt.concat(*cells, columns=4, spacing={"row": 0, "column": 17}, bounds="flush",
                     align={"row": "each", "column": "each"}).resolve_scale(color="independent")

chart = alt.vconcat(row_a, grid_cd, spacing=26).resolve_scale(color="independent").properties(
    padding=0).configure(font=FONT).configure_view(stroke="#666666", strokeWidth=1).configure_axis(
    labelFont=FONT, titleFont=FONT).configure_legend(labelFont=FONT).configure_title(font=FONT)

chart.save("out.html", embed_options={"renderer": "svg", "actions": False})
